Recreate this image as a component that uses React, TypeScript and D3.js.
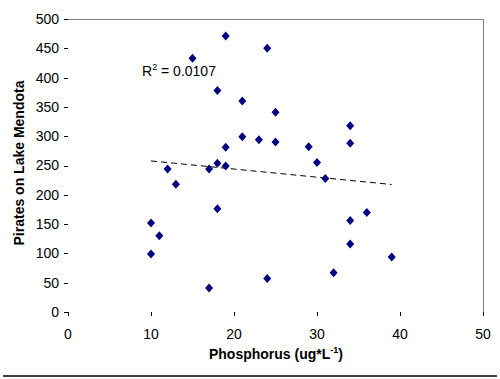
import React from "react";
import * as d3 from "d3";

const phosphorus = [10, 11, 10, 18, 17, 24, 32, 34, 36, 34, 39, 19, 15, 18, 21, 21, 19, 18, 19, 12, 17, 13, 24, 25, 34, 23, 25, 34, 29, 30, 31];
const pirates = [152, 130, 99, 176, 41, 57, 67, 156, 170, 116, 94, 471, 433, 378, 360, 299, 281, 254, 249, 244, 244, 218, 450, 341, 318, 294, 290, 288, 282, 255, 228];
const xTicks = [0, 10, 20, 30, 40, 50];
const yTicks = [0, 50, 100, 150, 200, 250, 300, 350, 400, 450, 500];
const rSquaredLabel = "0.0107";

const W = 500, H = 379;
const left = 68, right = 483, top = 19, bottom = 312;
const FONT = "Arial, 'Liberation Sans', sans-serif";

export default function App() {
  const x = d3.scaleLinear().domain([0, 50]).range([left, right]);
  const y = d3.scaleLinear().domain([0, 500]).range([bottom, top]);
  const pts = phosphorus.map((p, i) => ({ p, v: pirates[i] }));
  const mx = d3.mean(phosphorus)!, my = d3.mean(pirates)!;
  let sxy = 0, sxx = 0;
  pts.forEach(d => { sxy += (d.p - mx) * (d.v - my); sxx += (d.p - mx) ** 2; });
  const slope = sxy / sxx, icpt = my - slope * mx;
  const [x0, x1] = d3.extent(phosphorus) as [number, number];
  const line = d3.line<number>().x(d => x(d)).y(d => y(icpt + slope * d));
  const diamond = (cx: number, cy: number) => `M${cx},${cy - 4.5}L${cx + 4},${cy}L${cx},${cy + 4.5}L${cx - 4},${cy}Z`;

  return (
    <svg width={W} height={H} style={{ position: "absolute", left: 0, top: 0, background: "#fff" }} fontFamily={FONT}>
      <rect x={0} y={0} width={W} height={H} fill="#fff" />
      {/* plot border (top and right gray) */}
      <path d={`M${left},${top + 0.5}H${right + 0.5}V${bottom}`} fill="none" stroke="#808080" strokeWidth={1} />
      {/* y ticks */}
      {yTicks.map(t => (
        <g key={"y" + t}>
          <line x1={left - 4} x2={left} y1={Math.round(y(t)) + 0.5} y2={Math.round(y(t)) + 0.5} stroke="#000" strokeWidth={1} />
          <text x={left - 9} y={y(t)} dy="0.35em" textAnchor="end" fontSize={14} fill="#000">{t}</text>
        </g>
      ))}
      {/* x ticks */}
      {xTicks.map(t => (
        <g key={"x" + t}>
          <line x1={Math.round(x(t)) + 0.5} x2={Math.round(x(t)) + 0.5} y1={bottom} y2={bottom + 4} stroke="#000" strokeWidth={1} />
          <text x={x(t)} y={339} textAnchor="middle" fontSize={14} fill="#000">{t}</text>
        </g>
      ))}
      {/* trendline */}
      <path d={line([x0, x1]) || ""} fill="none" stroke="#000" strokeWidth={1} strokeDasharray="6,4" />
      {/* points */}
      {pts.map((d, i) => (
        <path key={i} d={diamond(x(d.p), y(d.v))} fill="#000080" />
      ))}
      {/* R² label */}
      <text x={142} y={76} fontSize={14} fill="#000">
        R<tspan fontSize={9} dy={-6}>2</tspan><tspan dy={6}>{` = ${rSquaredLabel}`}</tspan>
      </text>
      {/* axis titles */}
      <text x={276} y={359} textAnchor="middle" fontSize={14} fontWeight="bold" fill="#000">
        Phosphorus (ug*L<tspan fontSize={9} dy={-6}>-1</tspan><tspan dy={6}>)</tspan>
      </text>
      <text transform={`translate(24,163) rotate(-90)`} textAnchor="middle" fontSize={14} fontWeight="bold" fill="#000">
        Pirates on Lake Mendota
      </text>
      {/* bottom rule */}
      <line x1={3} x2={497} y1={376} y2={376} stroke="#000" strokeWidth={1.5} />
    </svg>
  );
}
